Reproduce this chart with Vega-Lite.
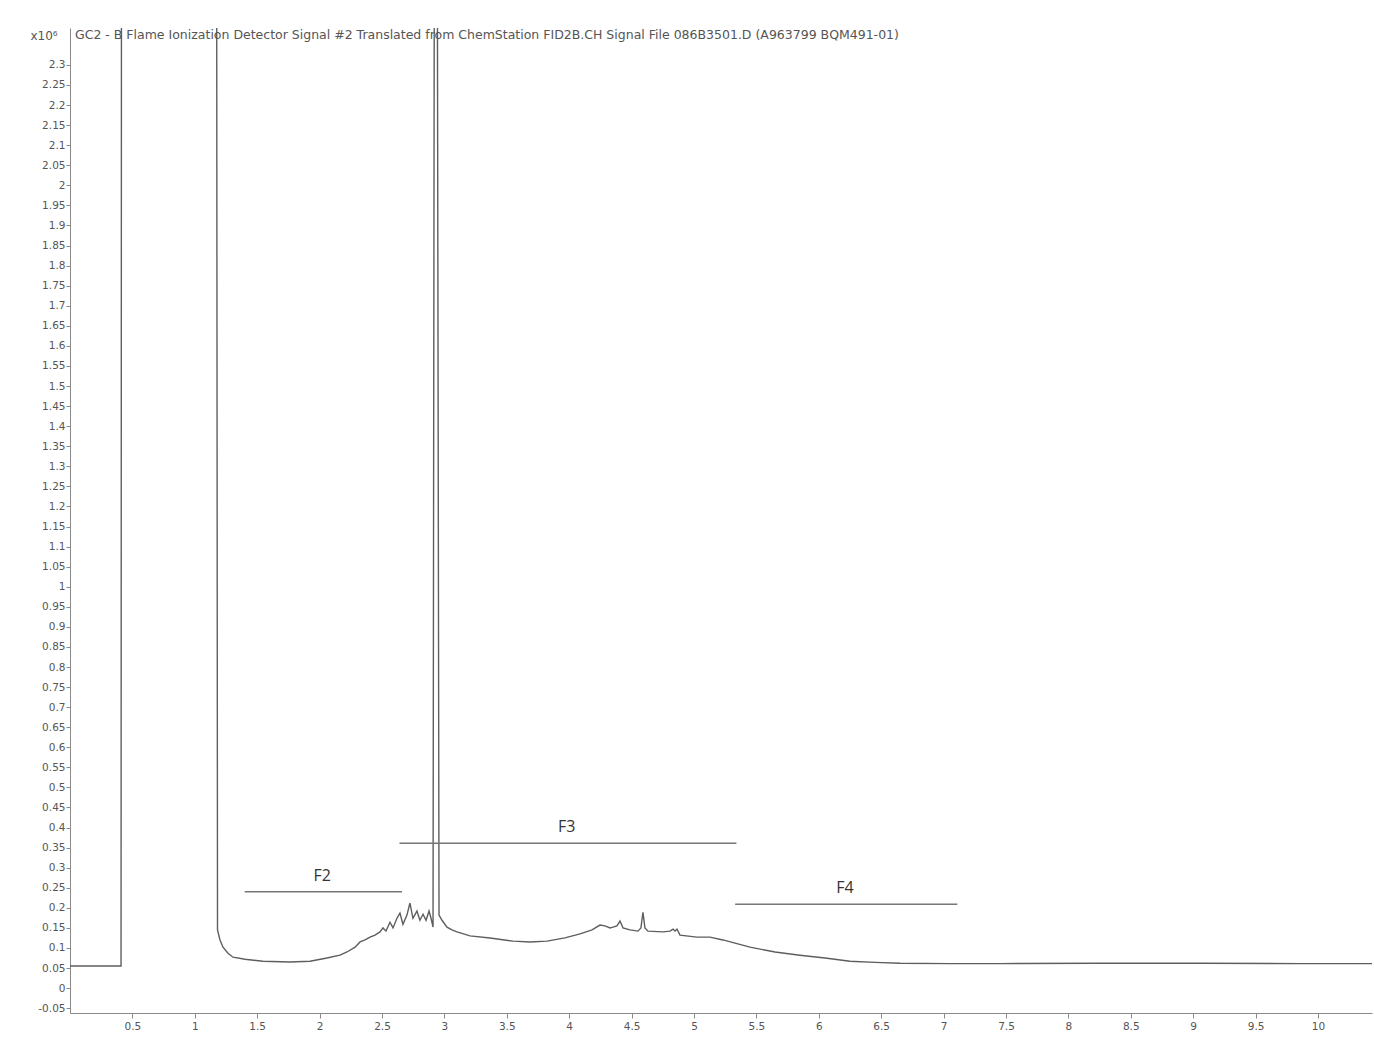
{
  "$schema": "https://vega.github.io/schema/vega-lite/v6.json",
  "autosize": "none",
  "width": 1302,
  "height": 985,
  "padding": {"left": 70, "top": 28, "right": 2, "bottom": 46},
  "background": "white",
  "config": {
    "view": {"stroke": null},
    "font": "DejaVu Sans",
    "axis": {
      "grid": false,
      "domainColor": "#8a8a8a",
      "tickColor": "#8a8a8a",
      "tickSize": 5,
      "labelColor": "#555555",
      "labelFont": "DejaVu Sans",
      "labelFontSize": 10.5
    }
  },
  "datasets": {
    "trace": [
      {"t": 0, "s": 0.055}, {"t": 0.409, "s": 0.055}, {"t": 0.413, "s": 3.0},
      {"t": 1.174, "s": 3.0}, {"t": 1.182, "s": 0.145}, {"t": 1.202, "s": 0.12},
      {"t": 1.226, "s": 0.102}, {"t": 1.266, "s": 0.087}, {"t": 1.306, "s": 0.077},
      {"t": 1.402, "s": 0.072}, {"t": 1.546, "s": 0.067}, {"t": 1.763, "s": 0.065},
      {"t": 1.923, "s": 0.067}, {"t": 2.059, "s": 0.075}, {"t": 2.163, "s": 0.082},
      {"t": 2.22, "s": 0.09}, {"t": 2.284, "s": 0.102}, {"t": 2.324, "s": 0.115},
      {"t": 2.364, "s": 0.12}, {"t": 2.404, "s": 0.127}, {"t": 2.444, "s": 0.132},
      {"t": 2.484, "s": 0.14}, {"t": 2.508, "s": 0.15}, {"t": 2.532, "s": 0.142},
      {"t": 2.564, "s": 0.164}, {"t": 2.588, "s": 0.15}, {"t": 2.62, "s": 0.174},
      {"t": 2.644, "s": 0.187}, {"t": 2.668, "s": 0.159}, {"t": 2.7, "s": 0.182},
      {"t": 2.724, "s": 0.212}, {"t": 2.748, "s": 0.174}, {"t": 2.78, "s": 0.192},
      {"t": 2.804, "s": 0.169}, {"t": 2.829, "s": 0.184}, {"t": 2.853, "s": 0.169},
      {"t": 2.877, "s": 0.192}, {"t": 2.893, "s": 0.174}, {"t": 2.909, "s": 0.152},
      {"t": 2.921, "s": 3.0}, {"t": 2.941, "s": 3.0}, {"t": 2.957, "s": 0.182},
      {"t": 2.981, "s": 0.169}, {"t": 3.021, "s": 0.152}, {"t": 3.061, "s": 0.145},
      {"t": 3.101, "s": 0.14}, {"t": 3.205, "s": 0.13}, {"t": 3.365, "s": 0.125},
      {"t": 3.55, "s": 0.117}, {"t": 3.686, "s": 0.115}, {"t": 3.822, "s": 0.117},
      {"t": 3.966, "s": 0.125}, {"t": 4.087, "s": 0.135}, {"t": 4.183, "s": 0.145},
      {"t": 4.247, "s": 0.157}, {"t": 4.287, "s": 0.155}, {"t": 4.327, "s": 0.15},
      {"t": 4.351, "s": 0.152}, {"t": 4.383, "s": 0.155}, {"t": 4.407, "s": 0.167},
      {"t": 4.431, "s": 0.15}, {"t": 4.487, "s": 0.145}, {"t": 4.551, "s": 0.142},
      {"t": 4.575, "s": 0.15}, {"t": 4.591, "s": 0.189}, {"t": 4.607, "s": 0.15},
      {"t": 4.631, "s": 0.142}, {"t": 4.752, "s": 0.14}, {"t": 4.808, "s": 0.142},
      {"t": 4.832, "s": 0.147}, {"t": 4.848, "s": 0.142}, {"t": 4.864, "s": 0.147},
      {"t": 4.888, "s": 0.132}, {"t": 5.024, "s": 0.127}, {"t": 5.128, "s": 0.127},
      {"t": 5.232, "s": 0.12}, {"t": 5.329, "s": 0.112}, {"t": 5.449, "s": 0.102},
      {"t": 5.649, "s": 0.09}, {"t": 5.849, "s": 0.082}, {"t": 6.05, "s": 0.075},
      {"t": 6.25, "s": 0.067}, {"t": 6.45, "s": 0.064}, {"t": 6.651, "s": 0.062},
      {"t": 7.051, "s": 0.061}, {"t": 7.452, "s": 0.061}, {"t": 8.253, "s": 0.062},
      {"t": 9.054, "s": 0.062}, {"t": 9.856, "s": 0.061}, {"t": 10.433, "s": 0.061}
    ],
    "fractions": [
      {"name": "F2", "start": 1.40, "end": 2.66, "level": 0.240, "lx": 2.02, "ly": 0.279},
      {"name": "F3", "start": 2.64, "end": 5.34, "level": 0.361, "lx": 3.98, "ly": 0.401},
      {"name": "F4", "start": 5.33, "end": 7.11, "level": 0.209, "lx": 6.21, "ly": 0.249}
    ],
    "heading": [
      {"t": 0.04, "s": 2.375, "label": "GC2 - B Flame Ionization Detector Signal #2 Translated from ChemStation FID2B.CH Signal File 086B3501.D (A963799 BQM491-01)"}
    ]
  },
  "layer": [
    {
      "data": {"name": "trace"},
      "mark": {"type": "line", "clip": true, "color": "#5e5e5e", "strokeWidth": 1.4, "interpolate": "linear"},
      "encoding": {
        "x": {
          "field": "t", "type": "quantitative",
          "scale": {"domain": [0, 10.433], "nice": false, "zero": false},
          "axis": {
            "title": null,
            "values": [0.5, 1, 1.5, 2, 2.5, 3, 3.5, 4, 4.5, 5, 5.5, 6, 6.5, 7, 7.5, 8, 8.5, 9, 9.5, 10],
            "tickCount": 100,
            "format": "~g",
            "labelPadding": 3,
            "labelOverlap": false
          }
        },
        "y": {
          "field": "s", "type": "quantitative",
          "scale": {"domain": [-0.062, 2.392], "nice": false, "zero": false},
          "axis": {
            "title": "x10⁶",
            "titleAngle": 0,
            "titleAlign": "left",
            "titleBaseline": "middle",
            "titleX": -40,
            "titleY": 7,
            "titleFont": "DejaVu Sans",
            "titleFontWeight": "normal",
            "titleFontSize": 12,
            "titleColor": "#555555",
            "values": [-0.05, 0, 0.05, 0.1, 0.15, 0.2, 0.25, 0.3, 0.35, 0.4, 0.45, 0.5, 0.55, 0.6, 0.65, 0.7, 0.75, 0.8, 0.85, 0.9, 0.95, 1, 1.05, 1.1, 1.15, 1.2, 1.25, 1.3, 1.35, 1.4, 1.45, 1.5, 1.55, 1.6, 1.65, 1.7, 1.75, 1.8, 1.85, 1.9, 1.95, 2, 2.05, 2.1, 2.15, 2.2, 2.25, 2.3],
            "tickCount": 100,
            "labelExpr": "replace(format(datum.value, '.2~f'), '−', '-')",
            "labelOverlap": false,
            "tickSize": 4,
            "labelPadding": 1
          }
        }
      }
    },
    {
      "data": {"name": "fractions"},
      "mark": {"type": "rule", "color": "#777777", "strokeWidth": 1.5},
      "encoding": {
        "x": {"field": "start", "type": "quantitative"},
        "x2": {"field": "end"},
        "y": {"field": "level", "type": "quantitative"}
      }
    },
    {
      "data": {"name": "fractions"},
      "mark": {"type": "text", "font": "Open Sans", "fontSize": 16, "color": "#333333", "align": "center", "baseline": "middle"},
      "encoding": {
        "x": {"field": "lx", "type": "quantitative"},
        "y": {"field": "ly", "type": "quantitative"},
        "text": {"field": "name"}
      }
    },
    {
      "data": {"name": "heading"},
      "mark": {"type": "text", "font": "DejaVu Sans", "fontSize": 12.5, "color": "#555555", "align": "left", "baseline": "middle"},
      "encoding": {
        "x": {"field": "t", "type": "quantitative"},
        "y": {"field": "s", "type": "quantitative"},
        "text": {"field": "label"}
      }
    }
  ]
}
